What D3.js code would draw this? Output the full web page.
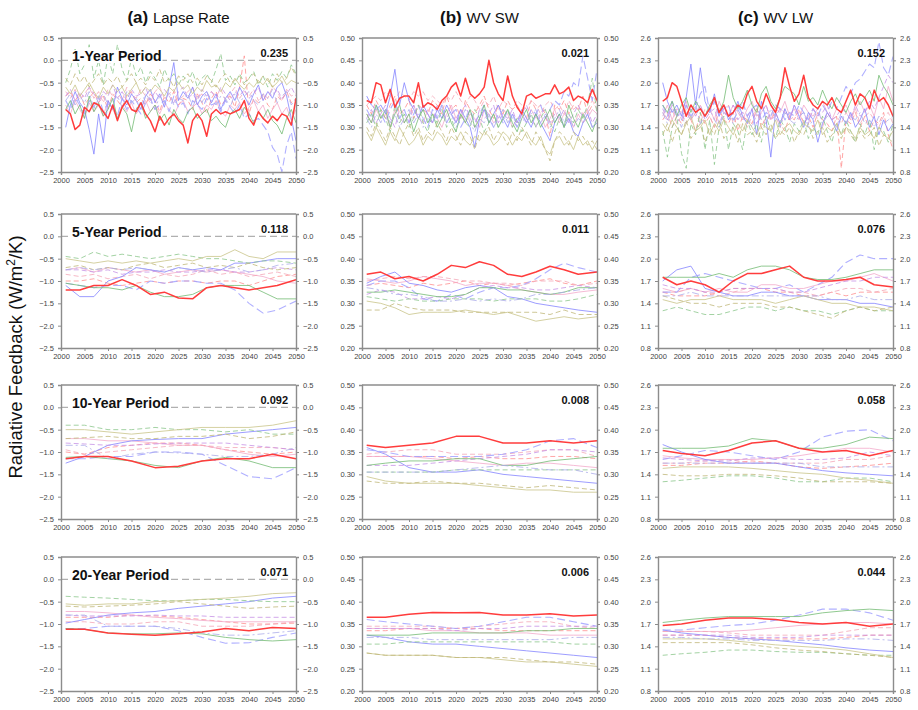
<!DOCTYPE html>
<html>
<head>
<meta charset="utf-8">
<script src="https://cdn.jsdelivr.net/npm/d3@7"></script>
<style>
  body { margin: 0; background: #fff; }
  svg { font-family: "Liberation Sans", Arial, sans-serif; }
</style>
</head>
<body>
<svg id="chart" width="918" height="710"></svg>
<script>
// ---- data ----
const years1 = d3.range(2001, 2051);
const years5 = [2001, 2004, 2007, 2010, 2013, 2016, 2019, 2022, 2025, 2028, 2031, 2034, 2037, 2040, 2043, 2046, 2050];
const years10 = [2001, 2005, 2010, 2015, 2020, 2025, 2030, 2035, 2040, 2045, 2050];

const columnTitles = [["(a)", "Lapse Rate"], ["(b)", "WV SW"], ["(c)", "WV LW"]];
const rowLabels = ["1-Year Period", "5-Year Period", "10-Year Period", "20-Year Period"];
const spreads = [
  ["0.235", "0.021", "0.152"],
  ["0.118", "0.011", "0.076"],
  ["0.092", "0.008", "0.058"],
  ["0.071", "0.006", "0.044"]
];
const yDomains = [[-2.5, 0.5], [0.2, 0.5], [0.8, 2.6]];
const yTicks = [
  [-2.5, -2.0, -1.5, -1.0, -0.5, 0.0, 0.5],
  [0.20, 0.25, 0.30, 0.35, 0.40, 0.45, 0.50],
  [0.8, 1.1, 1.4, 1.7, 2.0, 2.3, 2.6]
];
const yFormats = [".1f", ".2f", ".1f"];
const xTicks = [2000, 2005, 2010, 2015, 2020, 2025, 2030, 2035, 2040, 2045, 2050];

// series order: redDash, pink, pinkDash, blue, blueDash, purpleDash, green, greenDash, olive, oliveDash, lavender, red
const lapse1 = [
  [-0.8,-0.7,-0.9,-0.75,-1.0,-0.85,-0.7,-0.95,-0.8,-1.1,-0.75,-0.9,-1.05,-0.8,-0.7,-0.95,-0.85,-1.0,-0.75,-0.9,-1.15,-0.8,-0.95,-0.7,-1.0,-0.85,-0.9,-1.1,-0.75,-0.95,-1.2,-0.85,-0.7,-1.0,-0.9,-0.8,-1.05,-0.6,0.1,-1.2,-0.85,-0.95,-0.75,-1.0,-1.1,-0.8,-0.9,-0.7,-0.95,-0.85],
  [-1.0,-1.2,-0.9,-1.1,-1.3,-0.95,-1.15,-1.0,-1.25,-0.9,-1.1,-1.3,-1.0,-1.15,-0.95,-1.2,-1.05,-0.9,-1.15,-1.0,-1.2,-0.95,-1.1,-1.25,-1.0,-0.9,-1.15,-1.05,-0.95,-1.2,-1.0,-1.1,-0.9,-1.15,-1.25,-1.0,-1.1,-0.95,-1.2,-1.05,-0.9,-1.15,-1.0,-1.3,-1.1,-0.95,-1.2,-1.05,-1.35,-1.1],
  [-0.7,-0.85,-0.65,-0.9,-0.75,-0.6,-0.85,-0.7,-0.95,-0.65,-0.8,-0.7,-0.9,-0.6,-0.75,-0.85,-0.65,-0.8,-0.95,-0.7,-0.6,-0.85,-0.75,-0.65,-0.9,-0.8,-0.7,-0.6,-0.85,-0.75,-0.95,-0.7,-0.8,-0.65,-0.9,-0.75,-0.6,-0.85,-0.7,-0.8,-0.65,-0.9,-0.75,-0.85,-0.6,-0.7,-0.9,-0.65,-0.8,-0.75],
  [-1.5,-1.0,-0.7,-0.95,-1.1,-1.55,-2.1,-1.2,-1.85,-0.9,-1.1,-0.6,-0.85,-1.0,-0.75,-0.9,-1.1,-0.8,-0.65,-0.95,-0.75,-1.05,-0.6,-0.05,-0.9,-0.7,-0.85,-0.6,-1.0,-0.8,-0.7,-0.95,-0.75,-1.1,-0.85,-0.7,-0.9,-0.6,-0.8,-1.0,-0.75,-0.55,-0.9,-0.7,-0.85,-0.6,-0.5,-0.8,-1.3,-1.8],
  [-0.9,-1.1,-0.85,-1.0,-1.2,-0.9,-1.05,-0.8,-1.15,-0.95,-1.0,-1.25,-0.85,-1.1,-0.9,-1.05,-1.2,-0.95,-0.85,-1.1,-1.0,-0.9,-1.15,-0.8,-1.05,-0.95,-1.2,-0.9,-1.0,-1.1,-0.85,-1.0,-0.95,-1.15,-0.9,-1.05,-1.2,-1.0,-1.3,-1.2,-1.35,-1.3,-1.45,-1.6,-1.95,-2.1,-2.5,-1.9,-1.6,-2.2],
  [-0.8,-0.65,-0.9,-0.7,-0.85,-0.6,-0.75,-0.95,-0.7,-0.8,-0.55,-0.85,-0.7,-0.9,-0.65,-0.8,-0.75,-0.6,-0.9,-0.7,-0.85,-0.65,-0.8,-0.95,-0.7,-0.6,-0.85,-0.75,-0.9,-0.65,-0.8,-0.7,-0.85,-0.6,-0.75,-0.9,-0.7,-0.8,-0.65,-0.85,-0.75,-0.6,-0.9,-0.7,-0.8,-0.65,-0.85,-0.75,-0.6,-0.8],
  [-1.1,-0.9,-1.2,-1.0,-1.3,-0.8,-1.15,-0.95,-1.25,-1.1,-0.85,-1.3,-1.05,-1.2,-1.6,-1.1,-0.95,-1.3,-1.15,-1.0,-1.35,-1.2,-1.45,-1.1,-1.3,-1.4,-1.15,-1.05,-1.3,-1.2,-1.1,-1.35,-1.25,-1.4,-1.5,-1.2,-1.1,-1.3,-1.05,-1.2,-1.4,-1.15,-1.3,-1.1,-1.35,-1.45,-1.65,-1.3,-1.1,-1.4],
  [-0.5,-0.2,0.25,-0.3,-0.1,0.35,-0.4,0.0,-0.55,0.1,-0.3,0.35,-0.2,-0.45,0.05,-0.35,-0.15,-0.5,-0.25,-0.4,-0.6,-0.2,-0.45,-0.3,-0.55,-0.35,-0.5,-0.25,-0.6,-0.4,-0.3,-0.5,-0.2,0.15,-0.45,-0.35,-0.55,-0.3,-0.5,-0.4,-0.25,-0.55,-0.35,-0.6,-0.3,-0.45,-0.25,-0.4,-0.1,-0.3],
  [-0.6,-0.75,-0.55,-0.8,-0.65,-0.5,-0.7,-0.85,-0.6,-0.75,-0.55,-0.7,-0.6,-0.8,-0.65,-0.5,-0.75,-0.6,-0.7,-0.55,-0.65,-0.8,-0.6,-0.7,-0.5,-0.65,-0.55,-0.75,-0.6,-0.7,-0.45,-0.6,-0.55,-0.7,-0.5,-0.6,-0.4,-0.55,-0.65,-0.5,-0.6,-0.45,-0.55,-0.4,-0.6,-0.5,-0.35,-0.55,-0.45,-0.5],
  [-0.4,-0.55,-0.3,-0.5,-0.35,-0.6,-0.45,-0.3,-0.55,-0.4,-0.5,-0.35,-0.6,-0.45,-0.3,-0.5,-0.4,-0.55,-0.35,-0.45,-0.2,-0.5,-0.4,-0.6,-0.35,-0.45,-0.3,-0.5,-0.4,-0.55,-0.35,-0.45,-0.6,-0.4,-0.3,-0.5,-0.45,-0.35,-0.55,-0.4,-0.3,-0.5,-0.35,-0.45,-0.6,-0.3,-0.5,-0.4,-0.15,-0.35],
  [-0.9,-0.75,-1.0,-0.8,-0.95,-0.7,-1.1,-0.85,-0.75,-1.0,-0.9,-0.8,-1.05,-0.7,-0.95,-0.85,-1.0,-0.75,-0.9,-1.1,-0.8,-0.95,-0.7,-1.0,-0.85,-0.9,-0.75,-1.05,-0.8,-0.95,-0.7,-0.9,-1.0,-0.8,-0.85,-1.05,-0.75,-0.95,-0.8,-0.7,-0.9,-1.0,-0.75,-0.85,-0.65,-0.95,-0.8,-0.7,-1.0,-0.85],
  [-1.1,-1.2,-1.55,-1.45,-1.05,-1.15,-0.95,-1.0,-1.15,-1.3,-1.0,-1.35,-1.05,-0.9,-1.1,-1.15,-0.95,-1.2,-1.35,-1.6,-1.25,-1.45,-1.3,-1.2,-1.35,-1.45,-1.85,-1.35,-1.2,-1.35,-1.7,-1.2,-1.1,-1.2,-1.15,-1.2,-1.15,-1.1,-0.9,-1.3,-1.45,-1.15,-1.3,-1.4,-1.25,-1.35,-1.2,-1.25,-1.45,-0.85]
];
const lapse5 = [
  [-1.0,-1.0,-0.95,-1.05,-1.1,-1.05,-1.0,-1.05,-1.0,-1.0,-1.05,-1.0,-1.0,-1.1,-1.0,-0.9,-0.85],
  [-0.75,-0.7,-0.8,-0.7,-0.75,-0.8,-0.75,-0.85,-0.8,-0.75,-0.8,-0.75,-0.8,-0.85,-0.9,-1.0,-1.05],
  [-0.85,-0.9,-0.85,-0.95,-0.9,-0.85,-0.95,-0.85,-0.9,-0.85,-0.75,-0.85,-0.8,-0.9,-0.85,-0.8,-0.9],
  [-1.1,-1.35,-1.35,-1.0,-0.9,-0.7,-0.75,-0.8,-0.7,-0.75,-0.7,-0.75,-0.6,-0.6,-0.55,-0.5,-0.5],
  [-1.05,-1.1,-1.15,-1.1,-1.1,-1.2,-1.0,-1.05,-1.0,-1.0,-1.05,-1.05,-1.2,-1.5,-1.72,-1.65,-1.45],
  [-0.75,-0.75,-0.8,-0.75,-0.85,-0.8,-0.8,-0.75,-0.8,-0.8,-0.75,-0.75,-0.8,-0.8,-0.75,-0.7,-0.75],
  [-1.05,-1.1,-1.15,-1.15,-1.2,-1.1,-1.25,-1.35,-1.35,-1.3,-1.15,-1.1,-1.1,-1.1,-1.25,-1.4,-1.4],
  [-0.45,-0.5,-0.35,-0.45,-0.4,-0.45,-0.5,-0.45,-0.4,-0.45,-0.5,-0.5,-0.55,-0.6,-0.55,-0.55,-0.6],
  [-0.5,-0.55,-0.6,-0.55,-0.6,-0.55,-0.6,-0.55,-0.5,-0.55,-0.45,-0.45,-0.3,-0.45,-0.5,-0.35,-0.35],
  [-0.7,-0.65,-0.75,-0.7,-0.75,-0.65,-0.6,-0.7,-0.65,-0.6,-0.7,-0.65,-0.7,-0.6,-0.7,-0.75,-0.7],
  [-0.75,-0.7,-0.75,-0.7,-0.75,-0.7,-0.75,-0.8,-0.7,-0.75,-0.8,-0.75,-0.7,-0.8,-0.75,-0.65,-0.6],
  [-1.2,-1.2,-1.1,-1.1,-0.97,-1.1,-1.3,-1.25,-1.38,-1.4,-1.15,-1.1,-1.15,-1.2,-1.15,-1.1,-0.97]
];
const lapse10 = [
  [-1.0,-1.05,-0.9,-0.85,-0.8,-0.8,-0.85,-0.95,-1.0,-1.05,-1.0],
  [-0.7,-0.7,-0.75,-0.75,-0.8,-0.85,-0.85,-0.95,-1.05,-1.1,-1.05],
  [-0.95,-1.05,-1.0,-0.95,-0.9,-0.85,-0.85,-0.9,-0.9,-0.9,-0.95],
  [-1.25,-1.1,-0.85,-0.75,-0.72,-0.7,-0.7,-0.6,-0.55,-0.5,-0.45],
  [-1.15,-1.15,-1.1,-1.1,-1.0,-1.0,-1.05,-1.3,-1.55,-1.6,-1.35],
  [-0.8,-0.82,-0.85,-0.85,-0.82,-0.8,-0.8,-0.8,-0.85,-0.9,-0.95],
  [-1.12,-1.1,-1.15,-1.2,-1.3,-1.35,-1.2,-1.12,-1.2,-1.35,-1.35],
  [-0.4,-0.4,-0.5,-0.5,-0.45,-0.5,-0.5,-0.55,-0.5,-0.6,-0.6],
  [-0.5,-0.5,-0.55,-0.6,-0.55,-0.5,-0.45,-0.45,-0.45,-0.4,-0.3],
  [-0.7,-0.68,-0.65,-0.7,-0.7,-0.65,-0.65,-0.6,-0.7,-0.65,-0.55],
  [-0.85,-0.85,-1.15,-1.05,-1.0,-1.02,-1.05,-1.1,-1.1,-1.05,-0.9],
  [-1.15,-1.1,-1.1,-1.2,-1.35,-1.32,-1.2,-1.15,-1.15,-1.05,-1.15]
];
const lapse20 = [
  [-0.85,-0.85,-0.85,-0.8,-0.82,-0.85,-0.9,-0.95,-1.0,-1.0,-0.98],
  [-0.72,-0.72,-0.75,-0.8,-0.85,-0.88,-0.92,-0.95,-0.95,-0.95,-0.95],
  [-0.95,-0.95,-1.0,-1.0,-0.95,-0.95,-1.05,-1.05,-1.05,-1.0,-0.95],
  [-0.98,-0.9,-0.8,-0.75,-0.72,-0.65,-0.6,-0.55,-0.5,-0.42,-0.38],
  [-1.1,-1.1,-1.05,-1.05,-1.05,-1.15,-1.3,-1.43,-1.42,-1.3,-1.2],
  [-0.8,-0.82,-0.82,-0.82,-0.8,-0.82,-0.82,-0.85,-0.85,-0.85,-0.85],
  [-1.1,-1.12,-1.2,-1.22,-1.22,-1.2,-1.22,-1.3,-1.35,-1.38,-1.35],
  [-0.38,-0.4,-0.42,-0.45,-0.48,-0.48,-0.45,-0.45,-0.48,-0.5,-0.5],
  [-0.55,-0.58,-0.55,-0.55,-0.5,-0.48,-0.45,-0.42,-0.38,-0.32,-0.3],
  [-0.6,-0.62,-0.6,-0.58,-0.55,-0.5,-0.55,-0.6,-0.65,-0.62,-0.6],
  [-0.8,-0.8,-1.05,-1.05,-1.05,-1.1,-1.2,-1.25,-1.25,-1.2,-1.15],
  [-1.12,-1.12,-1.2,-1.23,-1.25,-1.22,-1.18,-1.1,-1.15,-1.08,-1.1]
];

const wvsw1 = [
  [0.35,0.33,0.36,0.34,0.32,0.35,0.37,0.33,0.34,0.36,0.32,0.35,0.34,0.33,0.36,0.35,0.33,0.37,0.34,0.35,0.32,0.36,0.34,0.33,0.35,0.37,0.34,0.32,0.35,0.33,0.36,0.34,0.35,0.33,0.32,0.36,0.34,0.35,0.33,0.28,0.35,0.34,0.36,0.33,0.35,0.34,0.37,0.33,0.35,0.36],
  [0.33,0.31,0.34,0.32,0.33,0.30,0.34,0.32,0.31,0.33,0.35,0.32,0.31,0.34,0.33,0.32,0.30,0.33,0.35,0.32,0.34,0.31,0.33,0.32,0.30,0.34,0.33,0.31,0.32,0.34,0.33,0.30,0.32,0.33,0.31,0.34,0.32,0.33,0.30,0.32,0.34,0.31,0.33,0.32,0.30,0.33,0.31,0.32,0.34,0.33],
  [0.35,0.36,0.37,0.36,0.38,0.37,0.36,0.38,0.37,0.36,0.38,0.37,0.38,0.36,0.37,0.36,0.35,0.37,0.36,0.38,0.36,0.35,0.37,0.36,0.34,0.36,0.35,0.37,0.34,0.36,0.35,0.34,0.36,0.35,0.34,0.36,0.35,0.33,0.35,0.36,0.34,0.35,0.33,0.36,0.34,0.35,0.33,0.34,0.36,0.34],
  [0.37,0.35,0.34,0.35,0.33,0.37,0.43,0.35,0.40,0.36,0.34,0.32,0.35,0.33,0.31,0.34,0.32,0.35,0.33,0.31,0.34,0.32,0.30,0.255,0.32,0.34,0.31,0.33,0.35,0.32,0.30,0.33,0.31,0.34,0.32,0.30,0.33,0.31,0.29,0.27,0.31,0.33,0.30,0.32,0.29,0.28,0.31,0.33,0.30,0.31],
  [0.34,0.32,0.35,0.33,0.31,0.34,0.36,0.32,0.34,0.31,0.33,0.35,0.32,0.30,0.34,0.32,0.35,0.31,0.33,0.34,0.30,0.32,0.34,0.31,0.33,0.35,0.32,0.30,0.33,0.31,0.34,0.32,0.30,0.33,0.31,0.34,0.33,0.35,0.32,0.34,0.36,0.35,0.38,0.37,0.40,0.39,0.46,0.41,0.36,0.43],
  [0.32,0.34,0.31,0.33,0.35,0.32,0.30,0.34,0.33,0.31,0.35,0.32,0.34,0.33,0.31,0.35,0.33,0.32,0.34,0.31,0.33,0.35,0.32,0.30,0.34,0.32,0.33,0.35,0.31,0.33,0.32,0.34,0.31,0.33,0.35,0.32,0.30,0.33,0.34,0.31,0.33,0.32,0.34,0.31,0.33,0.35,0.32,0.34,0.31,0.33],
  [0.33,0.31,0.35,0.32,0.34,0.30,0.33,0.35,0.31,0.33,0.29,0.32,0.34,0.31,0.33,0.30,0.32,0.34,0.31,0.29,0.33,0.31,0.34,0.30,0.32,0.35,0.31,0.33,0.30,0.32,0.34,0.31,0.29,0.32,0.34,0.31,0.33,0.30,0.32,0.34,0.31,0.33,0.30,0.35,0.32,0.30,0.33,0.31,0.29,0.32],
  [0.31,0.33,0.30,0.34,0.32,0.29,0.35,0.31,0.33,0.30,0.32,0.35,0.31,0.29,0.33,0.31,0.34,0.30,0.32,0.29,0.33,0.31,0.30,0.34,0.32,0.29,0.31,0.33,0.30,0.32,0.34,0.30,0.32,0.29,0.31,0.33,0.30,0.32,0.34,0.31,0.29,0.32,0.30,0.33,0.31,0.34,0.32,0.35,0.41,0.33],
  [0.29,0.27,0.30,0.28,0.26,0.29,0.27,0.30,0.28,0.26,0.27,0.29,0.26,0.28,0.27,0.29,0.28,0.26,0.28,0.27,0.29,0.27,0.26,0.28,0.27,0.29,0.28,0.26,0.27,0.29,0.28,0.26,0.28,0.27,0.29,0.27,0.26,0.28,0.25,0.24,0.27,0.28,0.26,0.27,0.25,0.28,0.26,0.27,0.25,0.27],
  [0.30,0.28,0.31,0.29,0.27,0.30,0.28,0.26,0.29,0.31,0.28,0.30,0.27,0.29,0.28,0.31,0.29,0.27,0.30,0.28,0.26,0.29,0.28,0.25,0.29,0.28,0.30,0.27,0.29,0.28,0.26,0.29,0.27,0.30,0.28,0.26,0.29,0.27,0.25,0.225,0.27,0.29,0.28,0.26,0.29,0.27,0.28,0.26,0.27,0.25],
  [0.32,0.30,0.33,0.31,0.34,0.31,0.33,0.30,0.32,0.34,0.31,0.33,0.30,0.32,0.31,0.33,0.35,0.31,0.33,0.30,0.32,0.34,0.31,0.29,0.32,0.31,0.33,0.30,0.32,0.34,0.31,0.33,0.30,0.32,0.31,0.33,0.34,0.31,0.33,0.30,0.32,0.34,0.31,0.33,0.30,0.32,0.31,0.33,0.30,0.32],
  [0.36,0.355,0.40,0.395,0.355,0.385,0.345,0.365,0.37,0.37,0.355,0.40,0.345,0.355,0.35,0.34,0.36,0.37,0.39,0.40,0.37,0.41,0.375,0.365,0.375,0.39,0.45,0.40,0.375,0.36,0.415,0.37,0.345,0.33,0.37,0.375,0.365,0.37,0.375,0.375,0.395,0.375,0.38,0.39,0.36,0.37,0.365,0.355,0.385,0.36]
];
const wvsw5 = [
  [0.34,0.345,0.34,0.335,0.345,0.34,0.345,0.35,0.34,0.345,0.34,0.345,0.35,0.355,0.345,0.34,0.35],
  [0.355,0.35,0.345,0.35,0.36,0.355,0.35,0.34,0.345,0.345,0.34,0.33,0.325,0.32,0.32,0.325,0.33],
  [0.35,0.355,0.36,0.355,0.36,0.36,0.355,0.35,0.35,0.345,0.345,0.34,0.35,0.35,0.35,0.34,0.345],
  [0.345,0.36,0.37,0.345,0.34,0.33,0.325,0.335,0.34,0.335,0.315,0.31,0.30,0.295,0.29,0.285,0.28],
  [0.34,0.35,0.35,0.335,0.31,0.305,0.32,0.31,0.325,0.335,0.335,0.34,0.355,0.375,0.39,0.38,0.37],
  [0.32,0.33,0.325,0.31,0.31,0.315,0.31,0.32,0.335,0.34,0.335,0.335,0.33,0.33,0.335,0.34,0.335],
  [0.325,0.325,0.33,0.325,0.32,0.315,0.315,0.32,0.335,0.335,0.33,0.33,0.325,0.32,0.325,0.335,0.335],
  [0.315,0.31,0.305,0.31,0.305,0.305,0.31,0.31,0.31,0.305,0.31,0.31,0.31,0.305,0.305,0.31,0.32],
  [0.305,0.30,0.29,0.275,0.28,0.28,0.28,0.285,0.28,0.275,0.28,0.27,0.26,0.265,0.27,0.265,0.27],
  [0.285,0.285,0.30,0.29,0.285,0.285,0.285,0.28,0.28,0.28,0.28,0.28,0.28,0.275,0.285,0.275,0.275],
  [0.335,0.33,0.32,0.32,0.315,0.305,0.305,0.31,0.305,0.31,0.305,0.31,0.32,0.32,0.325,0.33,0.335],
  [0.365,0.37,0.355,0.36,0.35,0.365,0.385,0.38,0.393,0.385,0.365,0.36,0.37,0.383,0.375,0.365,0.37]
];
const wvsw10 = [
  [0.34,0.34,0.34,0.34,0.335,0.34,0.335,0.335,0.34,0.34,0.335],
  [0.34,0.34,0.34,0.335,0.33,0.325,0.32,0.325,0.325,0.32,0.315],
  [0.345,0.35,0.355,0.355,0.345,0.345,0.345,0.35,0.355,0.355,0.34],
  [0.36,0.345,0.315,0.305,0.305,0.31,0.30,0.295,0.29,0.285,0.28],
  [0.355,0.35,0.34,0.34,0.34,0.34,0.345,0.355,0.375,0.38,0.36],
  [0.32,0.32,0.32,0.325,0.33,0.335,0.34,0.345,0.355,0.355,0.35],
  [0.32,0.325,0.33,0.33,0.335,0.335,0.32,0.32,0.33,0.335,0.34],
  [0.305,0.305,0.305,0.305,0.31,0.31,0.31,0.31,0.31,0.31,0.31],
  [0.295,0.285,0.28,0.28,0.28,0.275,0.27,0.265,0.265,0.26,0.26],
  [0.285,0.28,0.28,0.285,0.28,0.28,0.275,0.27,0.275,0.27,0.265],
  [0.305,0.305,0.305,0.305,0.31,0.315,0.32,0.315,0.31,0.31,0.30],
  [0.365,0.36,0.365,0.37,0.385,0.385,0.37,0.37,0.375,0.37,0.375]
];
const wvsw20 = [
  [0.335,0.335,0.34,0.34,0.34,0.34,0.335,0.335,0.335,0.335,0.335],
  [0.34,0.34,0.34,0.335,0.335,0.33,0.33,0.33,0.325,0.325,0.325],
  [0.345,0.345,0.345,0.345,0.34,0.345,0.35,0.355,0.355,0.345,0.34],
  [0.325,0.32,0.31,0.305,0.305,0.30,0.295,0.29,0.285,0.28,0.275],
  [0.36,0.355,0.35,0.345,0.34,0.345,0.355,0.365,0.365,0.355,0.345],
  [0.34,0.34,0.34,0.34,0.335,0.34,0.34,0.345,0.345,0.345,0.345],
  [0.325,0.325,0.325,0.33,0.33,0.33,0.33,0.335,0.335,0.34,0.34],
  [0.305,0.305,0.31,0.31,0.31,0.31,0.31,0.31,0.31,0.305,0.305],
  [0.285,0.28,0.28,0.28,0.275,0.275,0.27,0.265,0.265,0.26,0.255],
  [0.285,0.28,0.28,0.28,0.275,0.275,0.275,0.27,0.265,0.265,0.26],
  [0.32,0.32,0.32,0.315,0.315,0.315,0.315,0.315,0.315,0.32,0.32],
  [0.365,0.365,0.372,0.376,0.375,0.376,0.37,0.37,0.373,0.368,0.37]
];

const wvlw1 = [
  [1.5,1.6,1.4,1.55,1.45,1.65,1.5,1.35,1.6,1.45,1.55,1.4,1.65,1.5,1.45,1.6,1.35,1.55,1.5,1.45,1.65,1.4,1.55,1.5,1.6,1.45,1.35,1.55,1.5,1.65,1.45,1.55,1.4,1.6,1.5,1.45,1.35,1.55,0.85,1.5,1.45,1.6,1.4,1.55,1.35,1.5,1.45,1.6,1.3,1.1],
  [1.55,1.7,1.5,1.65,1.6,1.75,1.5,1.6,1.7,1.55,1.65,1.5,1.75,1.6,1.55,1.7,1.6,1.5,1.65,1.75,1.55,1.6,1.7,1.5,1.65,1.6,1.75,1.55,1.65,1.5,1.7,1.6,1.55,1.65,1.75,1.6,1.5,1.65,1.6,1.7,1.55,1.65,1.75,1.6,1.7,1.55,1.8,1.65,1.95,1.75],
  [1.6,1.5,1.65,1.45,1.55,1.7,1.5,1.6,1.45,1.65,1.55,1.4,1.6,1.5,1.7,1.45,1.55,1.6,1.4,1.55,1.65,1.5,1.45,1.6,1.55,1.4,1.65,1.5,1.55,1.6,1.45,1.55,1.65,1.5,1.4,1.6,1.5,1.55,1.45,1.6,1.5,1.65,1.45,1.55,1.6,1.5,1.4,1.55,1.6,1.45],
  [2.0,1.75,1.6,1.7,1.55,1.8,2.25,1.7,2.2,1.75,1.6,1.85,1.55,1.7,1.5,1.6,1.75,1.55,1.45,1.65,1.3,1.75,1.5,1.0,1.6,1.45,1.65,1.5,1.7,1.55,1.4,1.6,1.5,1.2,1.45,1.6,1.5,1.35,1.55,1.45,1.6,1.4,1.5,1.65,1.4,1.55,1.3,1.5,1.35,1.45],
  [1.7,1.55,1.75,1.6,1.5,1.7,1.55,1.65,1.85,1.95,1.6,1.75,1.55,1.65,1.7,1.5,1.6,1.75,1.55,1.65,1.7,1.5,1.6,1.55,1.7,1.65,1.5,1.6,1.55,1.7,1.6,1.5,1.65,1.55,1.7,1.6,1.75,1.65,1.8,1.95,1.85,2.0,2.05,2.15,2.25,2.2,2.55,2.2,2.1,2.35],
  [1.65,1.5,1.7,1.55,1.6,1.45,1.65,1.55,1.7,1.5,1.6,1.65,1.45,1.6,1.55,1.7,1.5,1.6,1.55,1.65,1.45,1.6,1.7,1.5,1.55,1.65,1.6,1.5,1.7,1.55,1.6,1.45,1.65,1.55,1.6,1.7,1.5,1.55,1.65,1.6,1.5,1.7,1.55,1.6,1.75,1.65,1.8,1.95,2.1,2.0],
  [1.7,1.6,1.75,1.55,1.7,1.8,1.6,1.75,1.65,1.55,1.7,1.8,1.6,1.75,2.1,1.8,1.65,1.75,1.9,1.7,1.6,1.85,1.95,1.75,1.65,1.8,1.95,1.9,1.85,1.7,1.95,1.75,1.8,1.7,1.9,1.75,1.65,1.8,1.7,1.6,1.75,1.85,1.7,1.8,1.9,1.75,2.1,1.95,1.85,1.7],
  [1.35,1.0,1.4,1.55,1.05,0.85,1.45,1.3,1.6,1.1,1.5,0.9,1.4,1.55,1.1,1.45,1.35,1.1,1.5,1.3,1.45,1.2,1.55,1.35,1.25,1.5,1.4,1.2,1.45,1.35,1.5,1.25,1.4,1.3,1.55,1.35,1.2,1.45,1.3,1.5,1.35,1.2,1.45,1.3,1.5,1.1,1.4,1.35,1.2,1.45],
  [1.45,1.35,1.5,1.4,1.3,1.45,1.55,1.35,1.4,1.5,1.3,1.45,1.35,1.5,1.4,1.3,1.45,1.35,1.5,1.4,1.3,1.45,1.4,1.35,1.5,1.3,1.4,1.45,1.35,1.3,1.45,1.4,1.35,1.5,1.3,1.4,1.35,1.45,1.3,1.4,1.35,1.25,1.4,1.3,1.35,1.25,1.4,1.3,1.25,1.35],
  [1.3,1.45,1.2,1.4,1.3,1.5,1.25,1.35,1.45,1.2,1.4,1.3,1.5,1.25,1.35,1.4,1.2,1.45,1.3,1.35,1.2,1.4,1.3,1.45,1.25,1.35,1.3,1.4,1.2,1.35,1.3,1.45,1.25,1.35,1.4,1.2,1.3,1.35,1.25,1.4,1.3,1.2,1.35,1.25,1.3,1.4,1.15,1.3,1.25,1.2],
  [1.6,1.45,1.65,1.55,1.4,1.6,1.5,1.7,1.45,1.55,1.65,1.5,1.4,1.6,1.55,1.45,1.65,1.5,1.55,1.4,1.6,1.5,1.45,1.65,1.55,1.4,1.6,1.5,1.45,1.55,1.6,1.4,1.5,1.65,1.45,1.55,1.5,1.4,1.6,1.45,1.55,1.5,1.6,1.45,1.5,1.4,1.55,1.45,1.5,1.55],
  [1.75,1.8,2.0,1.95,1.75,1.55,1.7,1.6,1.65,1.55,1.65,1.8,1.6,1.7,1.55,1.6,1.7,1.65,1.85,1.95,1.75,1.65,1.85,1.7,1.6,1.8,2.2,1.95,1.75,1.85,2.1,1.8,1.7,1.65,1.75,1.7,1.8,1.65,1.6,1.75,1.9,1.7,1.85,1.8,1.65,1.9,1.75,1.8,1.7,1.55]
];
const wvlw5 = [
  [1.55,1.5,1.5,1.5,1.55,1.6,1.6,1.6,1.55,1.55,1.5,1.5,1.55,1.5,1.55,1.55,1.55],
  [1.6,1.55,1.6,1.55,1.6,1.55,1.55,1.65,1.65,1.6,1.6,1.65,1.7,1.7,1.75,1.8,1.7],
  [1.55,1.55,1.6,1.55,1.5,1.55,1.6,1.6,1.6,1.55,1.55,1.5,1.55,1.6,1.6,1.55,1.6],
  [1.7,1.85,1.9,1.6,1.55,1.5,1.5,1.55,1.55,1.5,1.5,1.45,1.45,1.45,1.4,1.4,1.35],
  [1.55,1.55,1.75,1.8,1.75,1.7,1.65,1.6,1.6,1.65,1.55,1.65,1.75,1.95,2.05,2.0,2.0],
  [1.65,1.6,1.6,1.55,1.55,1.6,1.6,1.6,1.6,1.55,1.55,1.6,1.65,1.7,1.7,1.75,1.75],
  [1.75,1.75,1.75,1.75,1.8,1.75,1.85,1.9,1.9,1.85,1.75,1.72,1.72,1.75,1.8,1.85,1.85],
  [1.3,1.35,1.3,1.25,1.25,1.3,1.35,1.35,1.3,1.35,1.3,1.3,1.25,1.3,1.35,1.3,1.3],
  [1.45,1.4,1.45,1.45,1.5,1.45,1.45,1.45,1.4,1.45,1.5,1.45,1.4,1.4,1.35,1.35,1.3],
  [1.5,1.45,1.4,1.4,1.35,1.4,1.4,1.4,1.35,1.35,1.3,1.25,1.2,1.3,1.35,1.3,1.35],
  [1.5,1.5,1.55,1.5,1.5,1.5,1.5,1.5,1.5,1.5,1.5,1.5,1.45,1.45,1.5,1.45,1.45],
  [1.75,1.65,1.7,1.65,1.55,1.7,1.8,1.8,1.85,1.9,1.75,1.7,1.7,1.72,1.75,1.65,1.62]
];
const wvlw10 = [
  [1.52,1.52,1.55,1.55,1.58,1.55,1.5,1.48,1.5,1.52,1.55],
  [1.65,1.62,1.6,1.6,1.6,1.62,1.65,1.7,1.75,1.75,1.7],
  [1.55,1.55,1.58,1.6,1.55,1.55,1.55,1.55,1.6,1.6,1.65],
  [1.8,1.7,1.6,1.55,1.55,1.55,1.5,1.45,1.42,1.4,1.38],
  [1.6,1.65,1.72,1.7,1.65,1.6,1.7,1.9,1.98,2.0,1.85],
  [1.62,1.6,1.58,1.58,1.62,1.62,1.6,1.6,1.62,1.7,1.65],
  [1.75,1.75,1.75,1.78,1.88,1.85,1.75,1.75,1.8,1.9,1.88],
  [1.3,1.32,1.35,1.38,1.38,1.35,1.3,1.3,1.35,1.35,1.3],
  [1.48,1.5,1.5,1.5,1.48,1.45,1.42,1.4,1.35,1.32,1.28],
  [1.4,1.38,1.38,1.4,1.4,1.38,1.35,1.3,1.3,1.3,1.28],
  [1.55,1.55,1.55,1.55,1.55,1.55,1.55,1.5,1.5,1.5,1.5],
  [1.72,1.68,1.65,1.72,1.82,1.85,1.75,1.7,1.72,1.65,1.72]
];
const wvlw20 = [
  [1.55,1.55,1.55,1.52,1.5,1.5,1.5,1.5,1.52,1.55,1.55],
  [1.6,1.6,1.6,1.6,1.62,1.65,1.68,1.7,1.72,1.72,1.7],
  [1.6,1.6,1.6,1.58,1.55,1.55,1.55,1.55,1.6,1.65,1.65],
  [1.62,1.58,1.55,1.52,1.5,1.48,1.45,1.42,1.38,1.35,1.33],
  [1.62,1.62,1.65,1.68,1.7,1.75,1.82,1.9,1.9,1.85,1.75],
  [1.55,1.55,1.55,1.55,1.52,1.52,1.52,1.55,1.55,1.55,1.55],
  [1.72,1.75,1.78,1.8,1.8,1.8,1.8,1.85,1.88,1.9,1.88],
  [1.28,1.3,1.32,1.35,1.35,1.33,1.32,1.32,1.3,1.28,1.28],
  [1.5,1.5,1.5,1.48,1.45,1.42,1.4,1.38,1.35,1.3,1.25],
  [1.45,1.45,1.45,1.45,1.42,1.38,1.35,1.33,1.3,1.28,1.25],
  [1.52,1.52,1.5,1.5,1.48,1.48,1.48,1.48,1.5,1.5,1.48],
  [1.68,1.7,1.75,1.78,1.78,1.76,1.72,1.7,1.72,1.67,1.7]
];

// [row][col] -> [years, series]
const panels = [
  [[years1, lapse1], [years1, wvsw1], [years1, wvlw1]],
  [[years5, lapse5], [years5, wvsw5], [years5, wvlw5]],
  [[years10, lapse10], [years10, wvsw10], [years10, wvlw10]],
  [[years10, lapse20], [years10, wvsw20], [years10, wvlw20]]
];

// line styles, same order as the series arrays
const styles = [
  { color: "#ff9090", width: 1, dash: "5,3", opacity: 0.8 },
  { color: "#f2aacb", width: 1, dash: null, opacity: 0.8 },
  { color: "#f4a8b8", width: 1, dash: "5,3", opacity: 0.8 },
  { color: "#8484ff", width: 1, dash: null, opacity: 0.8 },
  { color: "#a2a2ff", width: 1.1, dash: "8,4", opacity: 0.85 },
  { color: "#c792e6", width: 1, dash: "5,3", opacity: 0.8 },
  { color: "#74bc74", width: 1, dash: null, opacity: 0.8 },
  { color: "#8cc78c", width: 1, dash: "5,3", opacity: 0.8 },
  { color: "#cdc890", width: 1, dash: null, opacity: 0.85 },
  { color: "#c0b87a", width: 1, dash: "5,3", opacity: 0.8 },
  { color: "#acacea", width: 1, dash: "7,3,2,3", opacity: 0.8 },
  { color: "#ff3c3c", width: 1.5, dash: null, opacity: 1 }
];

// ---- layout ----
const svg = d3.select("#chart");
const colX = [61, 362, 658];
const rowY = [38, 214, 385, 557];
const pw = 235, ph = 134;
const axisColor = "#8c8c8c";
const labelColor = "#444";

const x = d3.scaleLinear().domain([2000, 2050]);

columnTitles.forEach((t, c) => {
  const txt = svg.append("text")
    .attr("x", colX[c] + pw / 2)
    .attr("y", 23)
    .attr("text-anchor", "middle")
    .attr("fill", "#111");
  txt.append("tspan").attr("font-weight", "bold").attr("font-size", 17).text(t[0] + " ");
  txt.append("tspan").attr("font-size", 15).text(t[1]);
});

svg.append("text")
  .attr("transform", "translate(22,357) rotate(-90)")
  .attr("text-anchor", "middle")
  .attr("font-size", 18.5)
  .attr("fill", "#111")
  .html("Radiative Feedback (W/m<tspan dy='-7' font-size='12'>2</tspan><tspan dy='7'>/K)</tspan>");

panels.forEach((row, r) => {
  row.forEach(([years, series], c) => {
    const g = svg.append("g").attr("transform", `translate(${colX[c]},${rowY[r]})`);
    const xs = x.copy().range([0, pw]);
    const ys = d3.scaleLinear().domain(yDomains[c]).range([ph, 0]);

    const clipId = `clip-${r}-${c}`;
    g.append("clipPath").attr("id", clipId)
      .append("rect").attr("width", pw).attr("height", ph);

    // zero reference line in lapse-rate panels
    if (c === 0) {
      g.append("line")
        .attr("x1", 0).attr("x2", pw)
        .attr("y1", ys(0)).attr("y2", ys(0))
        .attr("stroke", "#b0b0b0").attr("stroke-width", 1.3)
        .attr("stroke-dasharray", "7,4");
    }

    const line = d3.line()
      .x((d, i) => xs(years[i]))
      .y(d => ys(d));

    g.append("g").attr("clip-path", `url(#${clipId})`)
      .selectAll("path")
      .data(series)
      .join("path")
      .attr("d", d => line(d))
      .attr("fill", "none")
      .attr("stroke", (d, i) => styles[i].color)
      .attr("stroke-width", (d, i) => styles[i].width)
      .attr("stroke-opacity", (d, i) => styles[i].opacity)
      .attr("stroke-dasharray", (d, i) => styles[i].dash)
      .attr("stroke-linejoin", "round");

    // axes
    const fmt = d3.format(yFormats[c]);
    const left = d3.axisLeft(ys).tickValues(yTicks[c]).tickFormat(fmt).tickSize(3).tickPadding(4);
    const right = d3.axisRight(ys).tickValues(yTicks[c]).tickFormat(fmt).tickSize(3).tickPadding(4);
    const bottom = d3.axisBottom(xs).tickValues(xTicks).tickFormat(d3.format("d")).tickSize(3).tickPadding(3);

    const styleAxis = a => {
      a.attr("font-family", null).attr("font-size", null);
      a.select(".domain").attr("stroke", axisColor).attr("stroke-width", 1.4);
      a.selectAll(".tick line").attr("stroke", axisColor);
      a.selectAll(".tick text").attr("fill", labelColor).attr("font-size", 7.5);
    };
    g.append("g").call(left).call(styleAxis);
    g.append("g").attr("transform", `translate(${pw},0)`).call(right).call(styleAxis);
    g.append("g").attr("transform", `translate(0,${ph})`).call(bottom).call(styleAxis);
    g.append("line").attr("x1", 0).attr("x2", pw).attr("y1", 0).attr("y2", 0)
      .attr("stroke", axisColor).attr("stroke-width", 1.4);

    // period label (first column only), with white backing over the zero line
    if (c === 0) {
      const lbl = g.append("text")
        .attr("x", 11).attr("y", 23)
        .attr("font-size", 14).attr("font-weight", "bold").attr("fill", "#111")
        .text(rowLabels[r]);
      const bb = lbl.node().getBBox();
      g.insert("rect", () => lbl.node())
        .attr("x", bb.x - 1).attr("y", bb.y + 2)
        .attr("width", bb.width + 2).attr("height", bb.height - 3)
        .attr("fill", "#fff");
    }

    g.append("text")
      .attr("x", pw - 8).attr("y", 19)
      .attr("text-anchor", "end")
      .attr("font-size", 11).attr("font-weight", "bold").attr("fill", "#111")
      .text(spreads[r][c]);
  });
});
</script>
</body>
</html>
